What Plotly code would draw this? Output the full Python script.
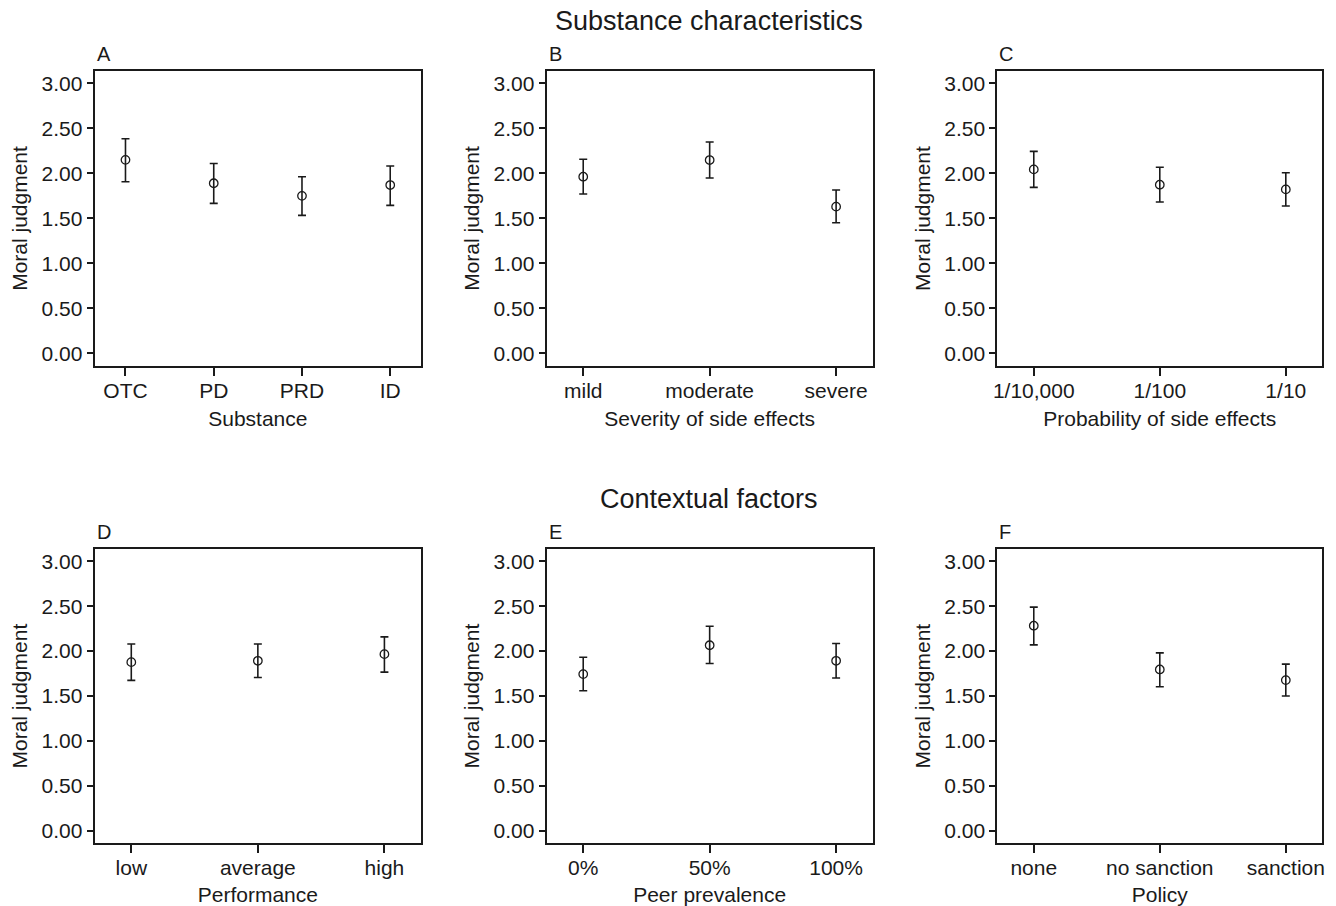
import plotly.graph_objects as go

# ---- data ----
substance_cats = ["OTC", "PD", "PRD", "ID"]
substance_mean = [2.15, 1.89, 1.75, 1.87]
substance_upper = [2.385, 2.11, 1.963, 2.081]
substance_lower = [1.907, 1.667, 1.533, 1.644]

severity_cats = ["mild", "moderate", "severe"]
severity_mean = [1.963, 2.148, 1.63]
severity_upper = [2.156, 2.348, 1.815]
severity_lower = [1.77, 1.948, 1.452]

probability_cats = ["1/10,000", "1/100", "1/10"]
probability_mean = [2.044, 1.874, 1.822]
probability_upper = [2.244, 2.067, 2.007]
probability_lower = [1.844, 1.681, 1.637]

performance_cats = ["low", "average", "high"]
performance_mean = [1.877, 1.892, 1.966]
performance_upper = [2.080, 2.080, 2.158]
performance_lower = [1.674, 1.707, 1.766]

peer_cats = ["0%", "50%", "100%"]
peer_mean = [1.744, 2.065, 1.892]
peer_upper = [1.932, 2.276, 2.084]
peer_lower = [1.559, 1.862, 1.700]

policy_cats = ["none", "no sanction", "sanction"]
policy_mean = [2.283, 1.796, 1.677]
policy_upper = [2.490, 1.980, 1.855]
policy_lower = [2.069, 1.603, 1.500]

y_tick_vals = [0, 0.5, 1, 1.5, 2, 2.5, 3]
y_tick_text = ["0.00", "0.50", "1.00", "1.50", "2.00", "2.50", "3.00"]

panels = [
    ("A", "Substance", substance_cats, substance_mean, substance_upper, substance_lower),
    ("B", "Severity of side effects", severity_cats, severity_mean, severity_upper, severity_lower),
    ("C", "Probability of side effects", probability_cats, probability_mean, probability_upper, probability_lower),
    ("D", "Performance", performance_cats, performance_mean, performance_upper, performance_lower),
    ("E", "Peer prevalence", peer_cats, peer_mean, peer_upper, peer_lower),
    ("F", "Policy", policy_cats, policy_mean, policy_upper, policy_lower),
]

W, H = 1336, 906
FONT = "Liberation Sans, Arial, sans-serif"
INK = "#1a1a1a"

# panel frames in pixels (left, right, top, bottom)
col_px = [(91, 419), (545, 872.7), (997.7, 1324.3)]
row_px = [(71, 366), (549, 843.3)]

fig = go.Figure()
annotations = []

for i, (letter, xtitle, cats, mean, upper, lower) in enumerate(panels):
    r, c = divmod(i, 3)
    l, rt = col_px[c]
    t, b = row_px[r]
    xa = "xaxis" if i == 0 else f"xaxis{i+1}"
    ya = "yaxis" if i == 0 else f"yaxis{i+1}"
    xref = "x" if i == 0 else f"x{i+1}"
    yref = "y" if i == 0 else f"y{i+1}"
    n = len(cats)
    pad = 0.35 if n == 4 else 0.29

    plus = [u - m for u, m in zip(upper, mean)]
    minus = [m - lo for m, lo in zip(mean, lower)]
    fig.add_trace(go.Scatter(
        x=list(range(n)), y=mean, mode="markers",
        marker=dict(symbol="circle-open", size=8.5, color=INK, line=dict(width=1.3, color=INK)),
        error_y=dict(type="data", symmetric=False, array=plus, arrayminus=minus,
                     color=INK, thickness=1.6, width=4),
        xaxis=xref, yaxis=yref, showlegend=False, hoverinfo="y",
    ))

    fig.layout[xa] = dict(
        domain=[l / W, rt / W], anchor=yref,
        range=[-pad, n - 1 + pad], tickmode="array",
        tickvals=list(range(n)), ticktext=cats,
        showgrid=False, zeroline=False, showline=True, mirror=True,
        linecolor=INK, linewidth=1.8, ticks="outside", ticklen=8,
        tickwidth=1.5, tickcolor=INK, ticklabelstandoff=-3,
        tickfont=dict(family=FONT, size=21, color=INK),
        title=dict(text=xtitle, font=dict(family=FONT, size=21, color=INK), standoff=10),
        fixedrange=True,
    )
    fig.layout[ya] = dict(
        domain=[1 - b / H, 1 - t / H], anchor=xref,
        range=[-0.14, 3.137], tickmode="array",
        tickvals=y_tick_vals, ticktext=y_tick_text,
        showgrid=False, zeroline=False, showline=True, mirror=True,
        linecolor=INK, linewidth=1.8, ticks="outside", ticklen=6,
        tickwidth=1.5, tickcolor=INK,
        tickfont=dict(family=FONT, size=21, color=INK),
        title=dict(text="Moral judgment", font=dict(family=FONT, size=21, color=INK), standoff=8),
        fixedrange=True,
    )
    annotations.append(dict(
        text=letter, x=l / W, y=1 - (t - 4) / H, xref="paper", yref="paper",
        xanchor="left", yanchor="bottom", showarrow=False,
        font=dict(family=FONT, size=20, color=INK),
    ))

annotations.append(dict(text="Substance characteristics", x=708 / W, y=1 - 21 / H,
                        xref="paper", yref="paper", xanchor="center", yanchor="middle",
                        showarrow=False, font=dict(family=FONT, size=27, color=INK)))
annotations.append(dict(text="Contextual factors", x=708 / W, y=1 - 499 / H,
                        xref="paper", yref="paper", xanchor="center", yanchor="middle",
                        showarrow=False, font=dict(family=FONT, size=27, color=INK)))

fig.update_layout(
    width=W, height=H, margin=dict(l=0, r=0, t=0, b=0),
    paper_bgcolor="white", plot_bgcolor="white",
    annotations=annotations, font=dict(family=FONT, color=INK),
)

fig.write_html("out.html", config={"displayModeBar": False},
               post_script="document.body.style.margin='0';document.body.style.overflow='hidden';")
